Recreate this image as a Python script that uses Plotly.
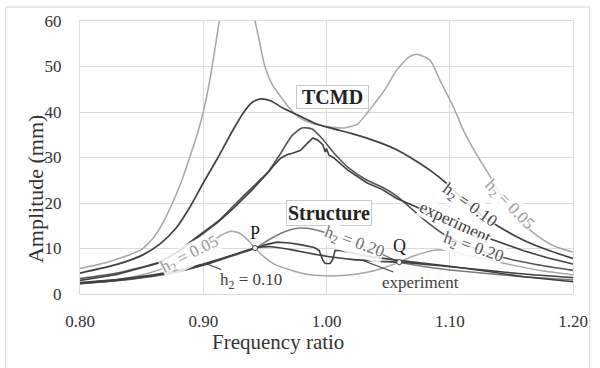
import plotly.graph_objects as go

# ---------------- data ----------------
# TCMD responses
tcmd_h005_f = [0.80, 0.82, 0.838, 0.850, 0.860, 0.868, 0.875, 0.882, 0.889, 0.895, 0.900, 0.905,
               0.909, 0.913, 0.918, 0.927, 0.936, 0.942, 0.946, 0.950, 0.956, 0.963, 0.970,
               0.977, 0.987, 1.000, 1.014, 1.025, 1.033, 1.047, 1.057, 1.067, 1.073, 1.084,
               1.092, 1.103, 1.111, 1.121, 1.131, 1.140, 1.150, 1.160, 1.170, 1.180, 1.190, 1.200]
tcmd_h005_a = [5.6, 6.8, 8.4, 9.8, 12.5, 16.0, 20.0, 24.5, 30.0, 35.0, 40.0, 46.5,
               53.0, 60.0, 67.0, 72.0, 67.0, 60.0, 55.0, 50.0, 46.0, 43.3, 40.8,
               39.0, 37.6, 36.8, 36.5, 37.3, 39.8, 44.8, 49.2, 52.1, 52.7, 51.4,
               47.0, 41.1, 36.0, 31.0, 26.6, 22.5, 18.5, 15.3, 13.0, 11.2, 10.0, 9.2]

tcmd_h010_f = [0.80, 0.83, 0.851, 0.865, 0.878, 0.889, 0.900, 0.912, 0.923, 0.933, 0.940, 0.947,
               0.955, 0.965, 0.977, 0.990, 1.003, 1.020, 1.041, 1.057, 1.071, 1.085, 1.097,
               1.110, 1.125, 1.140, 1.160, 1.180, 1.200]
tcmd_h010_a = [4.6, 6.5, 8.6, 11.0, 14.5, 19.0, 24.4, 30.0, 35.5, 40.0, 42.2, 42.9,
               42.4, 40.8, 39.3, 37.6, 36.5, 35.3, 33.5, 31.7, 29.5, 27.0, 24.4,
               21.0, 17.5, 14.8, 11.8, 9.6, 7.8]

tcmd_h020_f = [0.80, 0.83, 0.864, 0.880, 0.896, 0.912, 0.925, 0.940, 0.953, 0.963, 0.972, 0.980,
               0.988, 0.997, 1.006, 1.019, 1.033, 1.045, 1.057, 1.070, 1.083, 1.097, 1.120,
               1.145, 1.170, 1.200]
tcmd_h020_a = [3.4, 4.6, 7.0, 9.5, 12.8, 16.0, 19.5, 23.5, 27.0, 31.0, 34.8, 36.5,
               36.3, 34.0, 31.0, 27.5, 25.0, 23.5, 21.5, 18.5, 15.5, 12.8, 10.0,
               7.9, 6.5, 5.2]

tcmd_exp_f = [0.80, 0.83, 0.864, 0.880, 0.896, 0.912, 0.925, 0.940, 0.953, 0.958, 0.963, 0.968,
              0.973, 0.979, 0.984, 0.989, 0.993, 0.997, 0.999, 1.000, 1.002, 1.006, 1.017,
              1.033, 1.045, 1.057, 1.073, 1.090, 1.105, 1.120, 1.135, 1.160, 1.180, 1.200]
tcmd_exp_a = [3.0, 4.3, 6.8, 9.3, 12.5, 15.8, 19.0, 23.0, 26.8, 28.5, 29.9, 30.6,
              31.0, 31.6, 33.0, 34.3, 33.8, 32.8, 31.2, 32.0, 30.5, 29.9, 27.3,
              24.4, 23.0, 21.0, 19.1, 16.8, 14.8, 13.2, 11.9, 9.5, 7.9, 6.6]

# Structure responses
str_h005_f = [0.80, 0.83, 0.85, 0.864, 0.878, 0.890, 0.903, 0.915, 0.923, 0.930, 0.936, 0.942,
              0.950, 0.958, 0.974, 0.985, 0.998, 1.015, 1.033, 1.045, 1.059, 1.070, 1.081,
              1.090, 1.100, 1.110, 1.130, 1.150, 1.175, 1.200]
str_h005_a = [2.4, 3.2, 4.2, 5.3, 6.8, 8.5, 10.8, 13.0, 13.8, 13.3, 11.9, 10.1,
              8.0, 6.5, 5.0, 4.3, 4.0, 4.1, 4.8, 5.6, 7.0, 8.3, 9.2,
              9.7, 9.5, 8.8, 7.6, 6.4, 5.1, 4.2]

str_h010_f = [0.80, 0.83, 0.86, 0.88, 0.903, 0.920, 0.942, 0.955, 0.970, 0.985, 1.000, 1.020,
              1.041, 1.059, 1.080, 1.100, 1.130, 1.160, 1.200]
str_h010_a = [2.3, 3.0, 4.0, 5.0, 6.6, 8.2, 10.1, 10.4, 9.8, 9.0, 8.3, 7.6,
              7.2, 7.0, 6.5, 6.0, 5.2, 4.4, 3.6]

str_h020_f = [0.80, 0.83, 0.86, 0.88, 0.90, 0.92, 0.942, 0.955, 0.967, 0.978, 0.990, 1.000,
              1.015, 1.030, 1.047, 1.059, 1.080, 1.100, 1.130, 1.160, 1.200]
str_h020_a = [2.2, 2.9, 3.9, 4.9, 6.3, 8.0, 10.1, 12.2, 13.8, 14.5, 14.2, 13.4,
              12.0, 10.5, 8.5, 7.0, 6.0, 5.3, 4.5, 3.8, 3.1]

str_exp_f = [0.80, 0.83, 0.86, 0.88, 0.90, 0.92, 0.942, 0.950, 0.960, 0.970, 0.980, 0.990,
             0.994, 0.997, 0.999, 1.003, 1.005, 1.007, 1.012, 1.020, 1.031, 1.055, 1.080,
             1.100, 1.130, 1.160, 1.200]
str_exp_a = [2.5, 3.2, 4.2, 5.2, 6.6, 8.2, 10.0, 10.8, 11.4, 11.2, 10.8, 10.2,
             9.6, 7.4, 6.7, 6.7, 7.6, 9.6, 9.5, 9.1, 8.4, 7.5, 6.8,
             6.1, 5.0, 3.8, 2.7]

# fixed points P and Q
pq_labels = ["P", "Q"]
pq_f = [0.942, 1.059]
pq_a = [10.1, 7.0]

x_ticks = [0.80, 0.90, 1.00, 1.10, 1.20]
x_tick_text = ["0.80", "0.90", "1.00", "1.10", "1.20"]
y_ticks = [0, 10, 20, 30, 40, 50, 60]

# ---------------- styling ----------------
FONT = "Liberation Serif"
LIGHT = "#a6a6a6"
MED = "#7a7a7a"
DARK = "#404040"
TXT = "#333333"

fig = go.Figure()

def add_line(fx, ay, color, width, shape="spline"):
    line = dict(color=color, width=width, shape=shape)
    if shape == "spline":
        line["smoothing"] = 0.6
    fig.add_trace(go.Scatter(x=fx, y=ay, mode="lines", line=line,
                             hoverinfo="skip", showlegend=False, cliponaxis=True))

# structure (drawn first)
add_line(str_h005_f, str_h005_a, LIGHT, 1.5)
add_line(str_h020_f, str_h020_a, MED, 1.5)
add_line(str_h010_f, str_h010_a, DARK, 1.6)
add_line(str_exp_f, str_exp_a, DARK, 1.6, "linear")
# TCMD
add_line(tcmd_h005_f, tcmd_h005_a, LIGHT, 1.5)
add_line(tcmd_h020_f, tcmd_h020_a, "#555555", 1.6)
add_line(tcmd_h010_f, tcmd_h010_a, DARK, 1.7)
add_line(tcmd_exp_f, tcmd_exp_a, DARK, 1.6, "linear")

# P, Q points
fig.add_trace(go.Scatter(x=pq_f, y=pq_a, mode="markers",
                         marker=dict(size=5, color="white", line=dict(color=DARK, width=1)),
                         hoverinfo="skip", showlegend=False))

def label(text, x, y, color, angle=0, size=17, bg="rgba(255,255,255,0.85)"):
    fig.add_annotation(x=x, y=y, text=text, textangle=angle, showarrow=False,
                       font=dict(family=FONT, size=size, color=color),
                       bgcolor=bg, borderpad=0)

H = "h<sub>2</sub> = "
# boxed titles
fig.add_annotation(x=1.0048, y=43.4, text="&nbsp;<b>TCMD</b>&nbsp;", showarrow=False,
                   font=dict(family=FONT, size=20, color="#222222"),
                   bgcolor="white", bordercolor="#c8c8c8", borderwidth=1, borderpad=0)
fig.add_annotation(x=1.002, y=17.7, text="<b>Structure</b>", showarrow=False,
                   font=dict(family=FONT, size=20, color="#222222"),
                   bgcolor="white", bordercolor="#c8c8c8", borderwidth=1, borderpad=1)

# P / Q letters
label(pq_labels[0], 0.942, 13.5, "#222222", size=18, bg="rgba(255,255,255,0)")
label(pq_labels[1], 1.0594, 10.6, "#222222", size=18, bg="rgba(255,255,255,0)")

# structure curve labels
label(H + "0.05", 0.8896, 8.5, "#9a9a9a", angle=-27)
label(H + "0.20", 1.0225, 11.3, "#6e6e6e", angle=20)
fig.add_annotation(x=0.903, y=6.6, ax=44, ay=17, text=H + "0.10", showarrow=True,
                   arrowhead=0, arrowwidth=1.2, arrowcolor=DARK, standoff=0,
                   font=dict(family=FONT, size=17, color=DARK), bgcolor="white", borderpad=0)
fig.add_annotation(x=1.0305, y=7.25, ax=56, ay=21, text="experiment", showarrow=True,
                   arrowhead=0, arrowwidth=1.2, arrowcolor=DARK, standoff=0,
                   font=dict(family=FONT, size=17, color=DARK), bgcolor="white", borderpad=0)

# TCMD curve labels
label(H + "0.05", 1.1478, 19.6, "#9a9a9a", angle=46)
label(H + "0.10", 1.1157, 19.3, DARK, angle=36)
label("experiment", 1.105, 15.8, DARK, angle=25)
label(H + "0.20", 1.119, 10.1, "#555555", angle=19)

# axis titles (placed as in the reference)
fig.add_annotation(xref="paper", yref="paper", x=-0.1205, y=0.3846, text="Amplitude (mm)",
                   textangle=-90, showarrow=False, font=dict(family=FONT, size=22, color=TXT))
fig.add_annotation(xref="paper", yref="paper", x=0.4016, y=-0.2271, text="Frequency ratio",
                   showarrow=False, font=dict(family=FONT, size=21, color=TXT))

# outer frame
fig.add_shape(type="rect", xref="paper", yref="paper", x0=-0.1506, x1=1.034, y0=-0.35, y1=1.0513,
              line=dict(color="#d4d4d4", width=1), fillcolor="rgba(0,0,0,0)", layer="below")

fig.update_layout(
    width=600, height=368,
    margin=dict(l=80, r=22, t=21, b=74),
    paper_bgcolor="white", plot_bgcolor="white",
    font=dict(family=FONT, size=17, color=TXT),
    showlegend=False,
    xaxis=dict(range=[0.80, 1.20], tickvals=x_ticks, ticktext=x_tick_text,
               showgrid=True, gridcolor="#dcdcdc", gridwidth=1, zeroline=False,
               showline=True, linecolor="#dcdcdc", mirror=True, ticks="",
               ticklabelstandoff=12, tickfont=dict(family=FONT, size=17, color=TXT)),
    yaxis=dict(range=[0, 60], tickvals=y_ticks,
               showgrid=True, gridcolor="#dcdcdc", gridwidth=1, zeroline=False,
               showline=True, linecolor="#dcdcdc", mirror=True, ticks="",
               ticklabelstandoff=14, tickfont=dict(family=FONT, size=17, color=TXT)),
)

fig.write_html("out.html", config={"displayModeBar": False},
               post_script="document.body.style.margin='0px';document.body.style.padding='0px';")
